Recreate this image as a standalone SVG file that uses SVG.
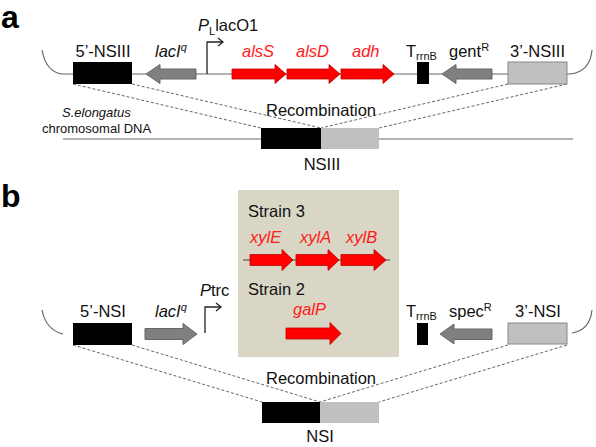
<svg xmlns="http://www.w3.org/2000/svg" width="596" height="447" viewBox="0 0 596 447">
<defs>
<style>
text{font-family:"Liberation Sans",Arial,sans-serif;font-size:16.5px;fill:#111}
.big{font-size:32px;font-weight:bold;fill:#000}
.it{font-style:italic}
.red{fill:#ff1a1a;font-style:italic}
.small{font-size:13px}
.sub{font-size:11px}
.bk{stroke:#666;stroke-width:1.2;fill:none}
.dash{stroke:#555;stroke-width:0.9;fill:none;stroke-dasharray:3,2}
.blk{fill:#000}
.gbox{fill:#c0c0c0;stroke:#888;stroke-width:1}
.garr{fill:#808080;stroke:#666;stroke-width:1}
.rarr{fill:#ff0000;stroke:#c00000;stroke-width:0.8}
.prom{stroke:#222;stroke-width:1.3;fill:none}
</style>
</defs>
<rect width="596" height="447" fill="#fff"/>

<!-- Panel a -->
<text class="big" x="1" y="28">a</text>
<g id="connectors-a">
<path class="bk" d="M42,50 Q46,72 62,74 L570,74 Q590,72 592,50"/>
<line class="bk" x1="63" y1="139" x2="573" y2="139"/>
<line class="dash" x1="73" y1="84" x2="261" y2="128"/>
<line class="dash" x1="132" y1="84" x2="321" y2="128"/>
<line class="dash" x1="508" y1="84" x2="321" y2="128"/>
<line class="dash" x1="567" y1="84" x2="379" y2="128"/>
</g>
<g id="nsiii5">
<rect class="blk" x="73" y="62" width="59" height="22"/>
<text x="103" y="57" text-anchor="middle">5’-NSIII</text>
</g>
<g id="laciq-a">
<polygon class="garr" points="196,69 160,69 160,64.5 146,74 160,83.5 160,79 196,79"/>
<text class="it" x="155" y="57">lacI<tspan font-size="11" dy="-6">q</tspan></text>
</g>
<g id="pl-laco1">
<polyline class="prom" points="207,74 207,42 223,42"/>
<polyline class="prom" points="218,38 223,42 218,46"/>
<text x="198" y="31"><tspan class="it">P</tspan><tspan font-size="11" dy="4">L</tspan><tspan dy="-4">lacO1</tspan></text>
</g>
<g id="alsS">
<polygon class="rarr" points="232,69 275,69 275,64.5 286,74 275,83.5 275,79 232,79"/>
<text class="red" x="242" y="57">alsS</text>
</g>
<g id="alsD">
<polygon class="rarr" points="287,69 329,69 329,64.5 340,74 329,83.5 329,79 287,79"/>
<text class="red" x="296" y="57">alsD</text>
</g>
<g id="adh">
<polygon class="rarr" points="341,69 383,69 383,64.5 394,74 383,83.5 383,79 341,79"/>
<text class="red" x="352" y="57">adh</text>
</g>
<g id="trrnb-a">
<rect class="blk" x="417" y="62" width="12" height="22"/>
<text x="406" y="57">T<tspan class="sub" dy="3">rrnB</tspan></text>
</g>
<g id="gentR">
<polygon class="garr" points="492,69 456,69 456,64.5 442,74 456,83.5 456,79 492,79"/>
<text x="449" y="57">gent<tspan font-size="11" dy="-6">R</tspan></text>
</g>
<g id="nsiii3">
<rect class="gbox" x="508" y="62" width="59" height="22"/>
<text x="537.5" y="57" text-anchor="middle">3’-NSIII</text>
</g>
<g id="chrom-a">
<text class="small it" x="62" y="117">S.elongatus</text>
<text class="small" x="42" y="133">chromosomal DNA</text>
<text x="321" y="116" text-anchor="middle">Recombination</text>
<rect class="blk" x="261" y="128" width="60" height="21"/>
<rect x="321" y="128" width="58" height="21" fill="#c0c0c0"/>
<text x="322" y="170" text-anchor="middle">NSIII</text>
</g>

<!-- Panel b -->
<text class="big" x="1" y="207">b</text>
<g id="connectors-b">
<path class="bk" d="M42,310 Q46,330 63,334"/>
<path class="bk" d="M572,333 Q590,330 592,310"/>
<line class="dash" x1="73" y1="345" x2="262" y2="402"/>
<line class="dash" x1="132" y1="345" x2="320" y2="402"/>
<line class="dash" x1="508" y1="345" x2="320" y2="402"/>
<line class="dash" x1="567" y1="345" x2="379" y2="402"/>
</g>
<g id="strainbox">
<rect x="238" y="190" width="161" height="167" fill="#d9d6c5"/>
<text x="248" y="217">Strain 3</text>
<line x1="243" y1="260" x2="390" y2="260" stroke="#444" stroke-width="1"/>
<polygon class="rarr" points="250,254.5 282,254.5 282,249.5 293,260 282,270.5 282,265.5 250,265.5"/>
<polygon class="rarr" points="296,254.5 328,254.5 328,249.5 339,260 328,270.5 328,265.5 296,265.5"/>
<polygon class="rarr" points="341,254.5 374,254.5 374,249.5 386,260 374,270.5 374,265.5 341,265.5"/>
<text class="red" x="250" y="243">xylE</text>
<text class="red" x="300" y="243">xylA</text>
<text class="red" x="346" y="243">xylB</text>
<text x="248" y="295">Strain 2</text>
<text class="red" x="293" y="315">galP</text>
<polygon class="rarr" points="286,328 330,328 330,322.5 341,333.5 330,344.5 330,339 286,339"/>
</g>
<g id="nsi5">
<rect class="blk" x="73" y="323" width="59" height="22"/>
<text x="103" y="317" text-anchor="middle">5’-NSI</text>
</g>
<g id="laciq-b">
<polygon class="garr" points="145,328.5 183,328.5 183,323.5 197,334 183,344.5 183,339.5 145,339.5"/>
<text class="it" x="155" y="317">lacI<tspan font-size="11" dy="-6">q</tspan></text>
</g>
<g id="ptrc">
<polyline class="prom" points="205,333 205,307 221,307"/>
<polyline class="prom" points="216,303 221,307 216,311"/>
<text x="200" y="296"><tspan class="it">P</tspan>trc</text>
</g>
<g id="trrnb-b">
<rect class="blk" x="417" y="323" width="11" height="22"/>
<text x="406" y="317">T<tspan class="sub" dy="3">rrnB</tspan></text>
</g>
<g id="specR">
<polygon class="garr" points="492,329 454,329 454,324 440,334 454,344 454,339.5 492,339.5"/>
<text x="449" y="317">spec<tspan font-size="11" dy="-6">R</tspan></text>
</g>
<g id="nsi3">
<rect class="gbox" x="508" y="323" width="59" height="21"/>
<text x="538" y="317" text-anchor="middle">3’-NSI</text>
</g>
<g id="chrom-b">
<text x="321" y="384" text-anchor="middle">Recombination</text>
<rect class="blk" x="262" y="402" width="58" height="21"/>
<rect x="320" y="402" width="59" height="21" fill="#c0c0c0"/>
<text x="320" y="442" text-anchor="middle">NSI</text>
</g>
</svg>
